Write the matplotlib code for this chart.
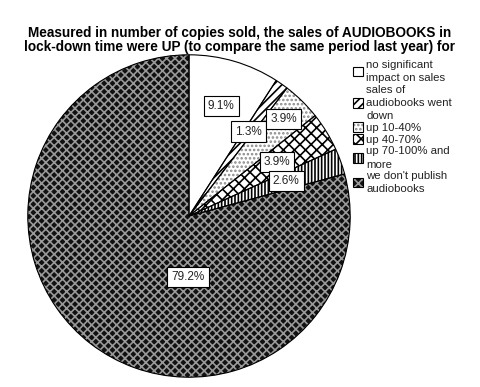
import matplotlib
matplotlib.use("Agg")
import matplotlib.pyplot as plt
from matplotlib.patches import Patch
import numpy as np

plt.rcParams['font.family'] = ['Liberation Sans', 'DejaVu Sans']
plt.rcParams['hatch.linewidth'] = 1.2

title = ("Measured in number of copies sold, the sales of AUDIOBOOKS in\n"
         "lock-down time were UP (to compare the same period last year) for")
categories = ["no significant\nimpact on sales",
              "sales of\naudiobooks went\ndown",
              "up 10-40%",
              "up 40-70%",
              "up 70-100% and\nmore",
              "we don't publish\naudiobooks"]
values = [9.1, 1.3, 3.9, 3.9, 2.6, 79.2]
labels = ["9.1%", "1.3%", "3.9%", "3.9%", "2.6%", "79.2%"]

# styles
faces = ['white', 'white', 'white', 'white', 'white', '#111111']
hatches = [None, '////', '....', 'xxx', '|||||', 'xxxx']
hatch_cols = ['black', 'black', '#888888', 'black', 'black', '#999999']
label_dist = [0.71, 0.64, 0.84, 0.64, 0.64, 0.38]
label_angle_override = [None, None, None, None, None, -91]

fig = plt.figure(figsize=(4.8, 3.87), dpi=100)
ax = fig.add_axes([27/480, 9/387, 324/480, 324/387])

wedges, _ = ax.pie(values, startangle=90, counterclock=False, radius=1,
                   colors=faces, wedgeprops=dict(linewidth=0))
for w, h, hc in zip(wedges, hatches, hatch_cols):
    w.set_hatch(h)
    w.set_edgecolor(hc)
    w.set_linewidth(0)
outlines, _ = ax.pie(values, startangle=90, counterclock=False, radius=1,
                     wedgeprops=dict(fill=False, edgecolor='black', linewidth=0.8))
ax.set_xlim(-1.005, 1.005)
ax.set_ylim(-1.005, 1.005)
ax.set_aspect('equal')
ax.axis('off')

for w, lab, d, ov in zip(wedges, labels, label_dist, label_angle_override):
    ang = (w.theta1 + w.theta2) / 2 if ov is None else ov
    x = d * np.cos(np.deg2rad(ang))
    y = d * np.sin(np.deg2rad(ang))
    ax.text(x, y, lab, ha='center', va='center', fontsize=8.5, color='#222222',
            bbox=dict(boxstyle='square,pad=0.35', facecolor='white',
                      edgecolor='black', linewidth=0.8))

fig.text(0.5, 1 - 40/387, title, ha='center', va='center', fontsize=9.8,
         fontweight='bold', linespacing=1.0)

handles = []
for f, h, hc in zip(faces, hatches, hatch_cols):
    p1 = Patch(facecolor=f, hatch=h, edgecolor=hc, linewidth=0)
    p2 = Patch(facecolor='none', edgecolor='black', linewidth=0.8)
    handles.append((p1, p2))
leg = fig.legend(handles, categories, loc='upper left',
                 bbox_to_anchor=(353/480, 1 - 60/387), frameon=False,
                 fontsize=8.2, handlelength=0.9, handleheight=0.9,
                 handletextpad=0.25, labelspacing=0.12, borderpad=0,
                 borderaxespad=0)
for t in leg.get_texts():
    t.set_linespacing(1.4)
    t.set_color('#222222')

fig.savefig('out.png', dpi=100)
